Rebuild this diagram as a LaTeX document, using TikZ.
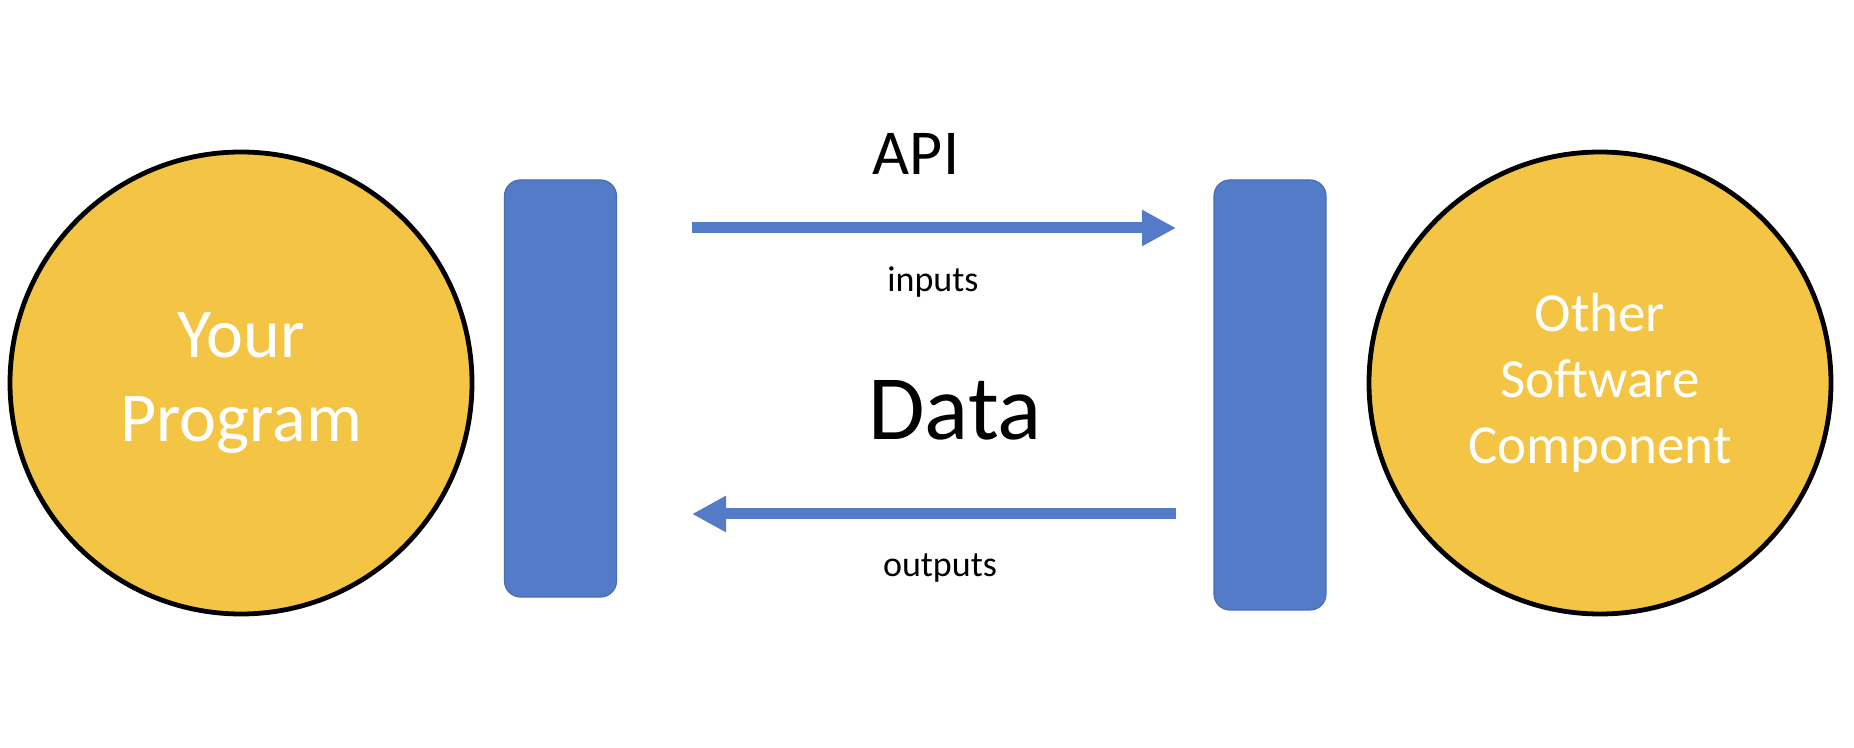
\documentclass[tikz,border=0pt]{standalone}
\usepackage{fontspec}
\setmainfont{Carlito}
\usetikzlibrary{arrows.meta}
\definecolor{gold}{HTML}{F4C545}
\definecolor{barblue}{HTML}{547BC8}
\definecolor{bardark}{HTML}{4A6DB0}

\begin{document}
\begin{tikzpicture}[x=0.5pt,y=-0.5pt,
	prog_node/.style={circle,fill=gold,draw=black,line width=2.4pt,minimum size=231pt,inner sep=0pt,text=white,align=center},
	bar_node/.style={rectangle,rounded corners=8pt,fill=barblue,draw=bardark,line width=0.6pt,minimum width=56pt,inner sep=0pt},
	flow_arrow/.style={draw=barblue,line width=5.5pt,-{Triangle[length=17pt,width=17pt]}},
	label_text/.style={inner sep=0pt}]

		\useasboundingbox (0,0) rectangle (1854,748);

		\node[prog_node,font=\fontsize{35}{42}\selectfont] (you) at (241,383) {Your\\Program};
		\node[prog_node,font=\fontsize{27.5}{33}\selectfont] (other) at (1600,383) {Other\\Software\\Component};
		\node[bar_node,minimum height=208.5pt] (lbar) at (560.5,388.5) {};
		\node[bar_node,minimum height=215pt] (rbar) at (1270,395) {};

		\coordinate (in_start) at (692,228);
		\coordinate (in_end) at (1176,228);
		\coordinate (out_start) at (1176,514);
		\coordinate (out_end) at (692,514);

		\draw[flow_arrow] (in_start) -- (in_end);
		\draw[flow_arrow] (out_start) -- (out_end);

		\node[label_text,anchor=base,font=\fontsize{32}{38}\selectfont] (api) at (916,175) {API};
		\node[label_text,anchor=mid,font=\fontsize{18}{22}\selectfont] (inputs) at (933,287) {inputs};
		\node[label_text,anchor=base,font=\fontsize{46}{55}\selectfont] (data) at (955,440) {Data};
		\node[label_text,anchor=mid,font=\fontsize{18}{22}\selectfont] (outputs) at (940,572) {outputs};
		\end{tikzpicture}
\end{document}
